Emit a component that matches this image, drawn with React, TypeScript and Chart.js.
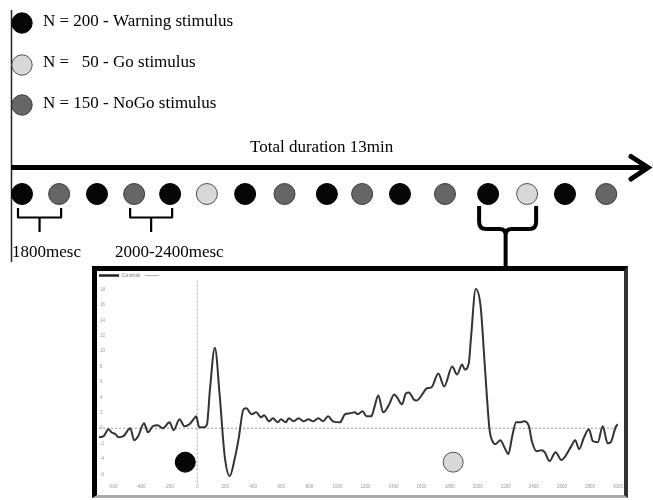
import React, { useEffect, useRef } from "react";
import { Chart, registerables } from "chart.js";

Chart.register(...registerables);

const SERIF = '"Liberation Serif", "Times New Roman", serif';

// ---------- legend (stimulus counts) ----------
const LEGEND_TYPES = ["warning", "go", "nogo"];
const LEGEND_LABELS = [
  "N = 200 - Warning stimulus",
  "N =   50 - Go stimulus",
  "N = 150 - NoGo stimulus",
];

// ---------- timeline of stimuli ----------
const STIM_SEQUENCE = [
  "warning", "nogo", "warning", "nogo", "warning", "go", "warning", "nogo",
  "warning", "nogo", "warning", "nogo", "warning", "go", "warning", "nogo",
];
// onset positions along the schematic timeline (trial units)
const STIM_POSITIONS = [
  0, 0.99, 2.0, 2.99, 3.95, 4.93, 5.95, 7.0,
  8.13, 9.07, 10.08, 11.28, 12.43, 13.47, 14.48, 15.58,
];
const TIMELINE_TITLE = "Total duration 13min";
const BRACE_FROM = [0, 3];
const BRACE_TO = [1, 4];
const BRACE_LABELS = ["1800mesc", "2000-2400mesc"];
const ZOOM_PAIR = [12, 13];

// ---------- inset ERP waveform ----------
const WAVE_LABEL = "Controls";
const WAVE_TIME_MS = [
  -700, -667, -632, -611, -582, -561, -526, -477, -449, -421, -379, -351, -316, -281, -246, -197,
  -168, -126, -91, -56, -21, -7, 14, 49, 70, 91, 126, 161, 196, 232, 267, 295,
  330, 351, 386, 421, 456, 477, 512, 540, 575, 597, 632, 653, 688, 723, 758, 793,
  828, 863, 898, 933, 968, 1018, 1053, 1088, 1123, 1144, 1179, 1207, 1242, 1263, 1291, 1326,
  1369, 1404, 1425, 1460, 1488, 1509, 1544, 1565, 1614, 1635, 1670, 1719, 1761, 1818, 1853, 1888,
  1909, 1937, 1951, 1986, 2021, 2049, 2084, 2105, 2126, 2162, 2190, 2218, 2246, 2274, 2302, 2330,
  2365, 2386, 2421, 2456, 2477, 2512, 2555, 2597, 2625, 2667, 2695, 2723, 2758, 2793, 2821, 2856,
  2891, 2926, 2948, 2983, 3000,
];
const WAVE_AMPLITUDE_UV = [
  -1.16, -1.03, -0.13, -0.52, -0.77, -1.16, -1.03, 0, -1.55, -1.03, 0.65, -0.52, 0.26, 0.39, 0, 0.77,
  -0.26, 1.16, 0.26, 0.52, 1.29, 1.55, 0.13, 0.13, 0.52, 5.03, 10.45, 4.13, -3.61, -6.19, -4.0, -1.42,
  2.45, 2.58, 1.81, 2.06, 1.42, 1.68, 0.9, 1.29, 0.77, 1.16, 0.77, 1.29, 0.9, 1.29, 0.9, 1.16,
  0.9, 1.29, 0.9, 1.55, 0.9, 0.77, 1.81, 1.94, 2.06, 1.81, 2.19, 1.55, 1.55, 2.71, 4.26, 2.06,
  3.1, 4.39, 4.0, 3.1, 4.52, 4.65, 3.74, 3.61, 4.65, 5.16, 5.29, 7.1, 5.42, 8.0, 6.97, 8.26,
  7.61, 8.52, 11.48, 18.06, 15.74, 8.52, -0.13, -1.68, -2.06, -1.55, -2.45, -3.35, -1.03, 0.77, 0.77, 0.9,
  0.26, -1.68, -2.97, -2.84, -3.1, -4.26, -3.1, -4.13, -3.61, -2.32, -1.55, -2.71, -1.16, -0.13, -1.68, -1.81,
  0.26, -1.94, -1.81, 0.13, 0.52,
];
const INSET_MARKER_TYPES = ["warning", "go"];
const INSET_MARKER_TIMES = [-85, 1825];
const INSET_MARKER_AMPLITUDES = [-4.4, -4.4];

const X_MIN = -700;
const X_MAX = 3000;
const Y_MIN = -7.05;
const Y_MAX = 19.23;

const STIM_FILL: Record<string, string> = { warning: "#060606", go: "#d8d8d8", nogo: "#666666" };
const STIM_EDGE: Record<string, string> = { warning: "#000000", go: "#505050", nogo: "#3c3c3c" };

function drawCircle(ctx: CanvasRenderingContext2D, x: number, y: number, r: number, type: string) {
  ctx.beginPath();
  ctx.arc(x, y, r, 0, Math.PI * 2);
  ctx.fillStyle = STIM_FILL[type];
  ctx.fill();
  ctx.lineWidth = 1;
  ctx.strokeStyle = STIM_EDGE[type];
  ctx.stroke();
}

const decorPlugin = {
  id: "decor",
  beforeDatasetsDraw(chart: any) {
    const ctx: CanvasRenderingContext2D = chart.ctx;
    const xs = chart.scales.x;
    ctx.save();
    // left guide line
    ctx.strokeStyle = "#222";
    ctx.lineWidth = 1.5;
    ctx.beginPath();
    ctx.moveTo(11.5, 10);
    ctx.lineTo(11.5, 262);
    ctx.stroke();

    // legend
    const rowsCircle = [23, 65, 105];
    const rowsText = [26, 67, 108];
    ctx.font = `17px ${SERIF}`;
    ctx.textBaseline = "alphabetic";
    ctx.textAlign = "left";
    LEGEND_TYPES.forEach((t, i) => {
      drawCircle(ctx, 22, rowsCircle[i], 10.2, t);
      ctx.fillStyle = "#000";
      ctx.fillText(LEGEND_LABELS[i], 43, rowsText[i]);
    });

    // timeline title
    ctx.fillStyle = "#000";
    ctx.fillText(TIMELINE_TITLE, 250, 152);

    // arrow
    ctx.strokeStyle = "#000";
    ctx.lineWidth = 5;
    ctx.lineCap = "butt";
    ctx.beginPath();
    ctx.moveTo(11, 167.5);
    ctx.lineTo(645, 167.5);
    ctx.stroke();
    ctx.lineCap = "round";
    ctx.lineJoin = "miter";
    ctx.beginPath();
    ctx.moveTo(631, 156.5);
    ctx.lineTo(648, 167.5);
    ctx.lineTo(631, 179);
    ctx.stroke();

    // small braces
    ctx.lineCap = "butt";
    ctx.lineJoin = "round";
    ctx.lineWidth = 2.2;
    const labelX = [12, 115];
    BRACE_FROM.forEach((f, i) => {
      const a = xs.getPixelForValue(STIM_POSITIONS[f]) - 4;
      const b = xs.getPixelForValue(STIM_POSITIONS[BRACE_TO[i]]) + 2;
      const m = (a + b) / 2;
      ctx.beginPath();
      ctx.moveTo(a, 208);
      ctx.lineTo(a, 217.5);
      ctx.lineTo(b, 217.5);
      ctx.lineTo(b, 208);
      ctx.moveTo(m, 217.5);
      ctx.lineTo(m, 232);
      ctx.stroke();
      ctx.fillStyle = "#000";
      ctx.fillText(BRACE_LABELS[i], labelX[i], 257);
    });

    // big brace to inset
    {
      const a = xs.getPixelForValue(STIM_POSITIONS[ZOOM_PAIR[0]]) - 9;
      const b = xs.getPixelForValue(STIM_POSITIONS[ZOOM_PAIR[1]]) + 9;
      const m = (a + b) / 2 - 2;
      ctx.lineWidth = 4;
      ctx.beginPath();
      ctx.moveTo(a, 206);
      ctx.lineTo(a, 222);
      ctx.quadraticCurveTo(a, 229, a + 7, 229);
      ctx.lineTo(m - 6, 229);
      ctx.quadraticCurveTo(m, 229, m, 235);
      ctx.lineTo(m, 268);
      ctx.moveTo(b, 206);
      ctx.lineTo(b, 222);
      ctx.quadraticCurveTo(b, 229, b - 7, 229);
      ctx.lineTo(m + 6, 229);
      ctx.quadraticCurveTo(m, 229, m, 235);
      ctx.stroke();
    }
    ctx.restore();
  },
};

const insetLegendPlugin = {
  id: "insetLegend",
  afterDraw(chart: any) {
    const ctx: CanvasRenderingContext2D = chart.ctx;
    const left = chart.chartArea.left;
    ctx.save();
    ctx.strokeStyle = "#222";
    ctx.lineWidth = 2.5;
    ctx.beginPath();
    ctx.moveTo(left, 4.5);
    ctx.lineTo(left + 20, 4.5);
    ctx.stroke();
    ctx.font = "5px Arial, sans-serif";
    ctx.fillStyle = "#777";
    ctx.textBaseline = "middle";
    ctx.fillText(WAVE_LABEL, left + 23, 4.5);
    ctx.strokeStyle = "#aaa";
    ctx.lineWidth = 1;
    ctx.beginPath();
    ctx.moveTo(left + 46, 4.5);
    ctx.lineTo(left + 60, 4.5);
    ctx.stroke();
    ctx.restore();
  },
};

export default function App() {
  const mainRef = useRef<HTMLCanvasElement>(null);
  const insetRef = useRef<HTMLCanvasElement>(null);

  useEffect(() => {
    const main = new Chart(mainRef.current!, {
      type: "scatter",
      data: {
        datasets: [
          {
            label: "stimuli",
            data: STIM_POSITIONS.map((p) => ({ x: p, y: 194 })),
            pointRadius: 10.5,
            pointBackgroundColor: STIM_SEQUENCE.map((t) => STIM_FILL[t]),
            pointBorderColor: STIM_SEQUENCE.map((t) => STIM_EDGE[t]),
            pointBorderWidth: 1,
            showLine: false,
          },
        ],
      },
      options: {
        responsive: false,
        animation: false,
        events: [],
        layout: { padding: 0, autoPadding: false },
        plugins: { legend: { display: false }, tooltip: { enabled: false } },
        scales: {
          x: { type: "linear", display: false, min: -0.587, max: 16.827 },
          y: { type: "linear", display: false, min: 0, max: 500, reverse: true },
        },
      },
      plugins: [decorPlugin],
    });

    const inset = new Chart(insetRef.current!, {
      type: "line",
      data: {
        datasets: [
          {
            label: WAVE_LABEL,
            data: WAVE_TIME_MS.map((t, i) => ({ x: t, y: WAVE_AMPLITUDE_UV[i] })),
            borderColor: "#333",
            borderWidth: 2,
            pointRadius: 0,
            cubicInterpolationMode: "monotone",
            fill: false,
          },
          {
            label: "stimuli",
            data: INSET_MARKER_TIMES.map((t, i) => ({ x: t, y: INSET_MARKER_AMPLITUDES[i] })),
            showLine: false,
            pointRadius: 10,
            pointBackgroundColor: INSET_MARKER_TYPES.map((t) => STIM_FILL[t]),
            pointBorderColor: INSET_MARKER_TYPES.map((t) => STIM_EDGE[t]),
            pointBorderWidth: 1,
          },
          {
            label: "baseline",
            data: [{ x: X_MIN, y: 0 }, { x: X_MAX, y: 0 }],
            borderColor: "#9a9a9a",
            borderWidth: 1,
            borderDash: [2, 2],
            pointRadius: 0,
          },
          {
            label: "onset",
            data: [{ x: 0, y: Y_MIN }, { x: 0, y: Y_MAX }],
            borderColor: "#9a9a9a",
            borderWidth: 1,
            borderDash: [2, 2],
            pointRadius: 0,
          },
        ],
      },
      options: {
        responsive: false,
        animation: false,
        events: [],
        layout: { padding: { top: 9, left: 0, right: 0, bottom: 0 }, autoPadding: false },
        plugins: { legend: { display: false }, tooltip: { enabled: false } },
        scales: {
          x: {
            type: "linear",
            min: X_MIN,
            max: X_MAX,
            grid: { display: false, drawTicks: false },
            border: { display: false },
            ticks: {
              stepSize: 200,
              includeBounds: false,
              autoSkip: false,
              maxRotation: 0,
              padding: 1,
              color: "#999",
              font: { size: 4.5 },
              callback: (v: any) => String(v),
            },
          },
          y: {
            type: "linear",
            min: Y_MIN,
            max: Y_MAX,
            grid: { display: false, drawTicks: false },
            border: { display: false },
            ticks: {
              stepSize: 2,
              includeBounds: false,
              mirror: true,
              padding: 1,
              color: "#999",
              font: { size: 4.5 },
              callback: (v: any) => String(v),
            },
          },
        },
      },
      plugins: [insetLegendPlugin],
    });

    return () => {
      main.destroy();
      inset.destroy();
    };
  }, []);

  return (
    <div style={{ position: "fixed", left: 0, top: 0, width: 653, height: 500, background: "#fff", overflow: "hidden" }}>
      <canvas ref={mainRef} width={653} height={500} style={{ position: "absolute", left: 0, top: 0, width: 653, height: 500 }} />
      <div
        style={{
          position: "absolute",
          left: 92,
          top: 266,
          width: 536,
          height: 232,
          boxSizing: "border-box",
          borderTop: "5px solid #000",
          borderLeft: "5px solid #000",
          borderRight: "4px solid #333",
          borderBottom: "3px solid #aaa",
          background: "#fff",
        }}
      >
        <canvas ref={insetRef} width={527} height={219} style={{ position: "absolute", left: 0, top: 0, width: 527, height: 219 }} />
      </div>
    </div>
  );
}
